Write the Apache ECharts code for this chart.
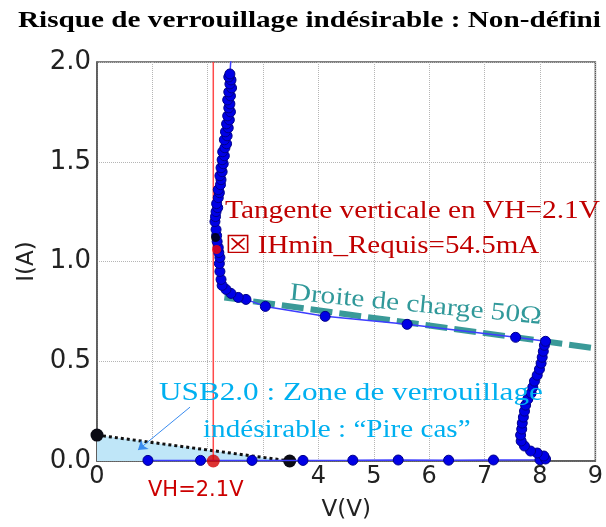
<!DOCTYPE html>
<html>
<head>
<meta charset="utf-8">
<script src="https://cdn.jsdelivr.net/npm/echarts@6/dist/echarts.min.js"></script>
<style>
  html, body { margin: 0; padding: 0; background: #ffffff; }
  #chart { width: 606px; height: 527px; }
</style>
</head>
<body>
<div id="chart"></div>
<script>
// Axis ticks (x labels 1..3 are left blank, the VH label sits there instead)
const xTickLabels = ['0', '', '', '', '4', '5', '6', '7', '8', '9'];
const yTickValues = [0.0, 0.5, 1.0, 1.5, 2.0];

// TLP I-V measurement (V, A): off-state, snapback, along load line, on-state
const tlpCurve = [
  [0.92, 0.003], [1.87, 0.003], [2.80, 0.003], [3.72, 0.003], [4.62, 0.004],
  [5.44, 0.005], [6.35, 0.004], [7.16, 0.005], [8.00, 0.006], [8.10, 0.010],
  [8.07, 0.025], [7.95, 0.040], [7.83, 0.050], [7.72, 0.075], [7.66, 0.100],
  [7.65, 0.130], [7.67, 0.160], [7.68, 0.190], [7.70, 0.220], [7.72, 0.250],
  [7.74, 0.280], [7.78, 0.310], [7.84, 0.340], [7.87, 0.370], [7.90, 0.400],
  [7.95, 0.430], [7.99, 0.460], [8.02, 0.490], [8.04, 0.520], [8.06, 0.550],
  [8.08, 0.580], [8.10, 0.600], [7.56, 0.620], [5.60, 0.685], [4.12, 0.725],
  [3.04, 0.775], [2.69, 0.810], [2.55, 0.820], [2.42, 0.840], [2.33, 0.860],
  [2.26, 0.880], [2.24, 0.910], [2.22, 0.950], [2.21, 0.990], [2.22, 1.020],
  [2.20, 1.045], [2.19, 1.070], [2.17, 1.100], [2.16, 1.130], [2.15, 1.160],
  [2.13, 1.200], [2.14, 1.225], [2.15, 1.250], [2.18, 1.270], [2.16, 1.290],
  [2.19, 1.320], [2.21, 1.345], [2.19, 1.360], [2.23, 1.385], [2.24, 1.410],
  [2.22, 1.430], [2.26, 1.450], [2.24, 1.470], [2.28, 1.490], [2.26, 1.510],
  [2.30, 1.530], [2.27, 1.550], [2.31, 1.570], [2.34, 1.590], [2.30, 1.610],
  [2.35, 1.630], [2.32, 1.650], [2.37, 1.670], [2.34, 1.690], [2.39, 1.710],
  [2.36, 1.730], [2.41, 1.750], [2.38, 1.770], [2.40, 1.790], [2.36, 1.810],
  [2.41, 1.830], [2.38, 1.850], [2.43, 1.870], [2.40, 1.890], [2.42, 1.910],
  [2.38, 1.925], [2.40, 1.940]
];
// the trace carries on beyond the top of the axis
const tlpTail = [[2.40, 1.940], [2.44, 2.10]];

// Holding point markers on the curve
const holdPointRed = [[2.16, 1.06]];
const holdPointBlack = [[2.14, 1.12]];

// Load line 50 ohm
const loadLine = [[2.30, 0.82], [9.00, 0.565]];

// Vertical tangent at VH
const vh = 2.1;
const vhLine = [[vh, 0], [vh, 2.0]];
const vhPoint = [[vh, 0]];

// USB2.0 worst-case latch-up zone
const usbZone = [[0, 0.13], [3.48, 0]];

// Arrow pointing at the zone
const arrowFrom = [1.68, 0.27];
const arrowTo = [0.74, 0.055];

// Texts
const titleText = 'Risque de verrouillage indésirable : Non-défini';
const tangentText = 'Tangente verticale en VH=2.1V';
const ihText = '☒ IHmin_Requis=54.5mA';
const loadText = 'Droite de charge 50Ω';
const usbLine1 = 'USB2.0 : Zone de verrouillage';
const usbLine2 = 'indésirable : “Pire cas”';
const vhText = 'VH=2.1V';

const chart = echarts.init(document.getElementById('chart'), null, { renderer: 'canvas' });

const serif = '"Liberation Serif", "Times New Roman", serif';
const sans = '"DejaVu Sans", sans-serif';

function txt(x, y, text, font, color, scaleX, rotation) {
  return {
    type: 'text', x: x, y: y, scaleX: scaleX || 1, rotation: rotation || 0, z: 100,
    style: { text: text, font: font, fill: color, textAlign: 'left', textVerticalAlign: 'middle' }
  };
}

const option = {
  animation: false,
  backgroundColor: '#ffffff',
  grid: { left: 97, right: 10, top: 62, bottom: 64, show: true, borderColor: '#555', borderWidth: 1.5 },
  xAxis: {
    type: 'value', min: 0, max: 9, interval: 1,
    name: 'V(V)', nameLocation: 'middle', nameGap: 38,
    nameTextStyle: { fontFamily: sans, fontSize: 23, color: '#222' },
    axisLine: { show: true, lineStyle: { color: '#555', width: 1.5 } },
    axisTick: { show: false },
    axisLabel: { fontFamily: sans, fontSize: 24, color: '#222', margin: 4,
      formatter: function (v) { return xTickLabels[Math.round(v)] || ''; } },
    splitLine: { show: true, lineStyle: { color: '#b5b5b5', type: 'dotted', width: 1 } }
  },
  yAxis: {
    type: 'value', min: 0, max: 2, interval: 0.5,
    name: 'I(A)', nameLocation: 'middle', nameGap: 58,
    nameTextStyle: { fontFamily: sans, fontSize: 23, color: '#222' },
    axisLine: { show: true, lineStyle: { color: '#555', width: 1.5 } },
    axisTick: { show: false },
    axisLabel: { fontFamily: sans, fontSize: 26, color: '#222', margin: 6,
      formatter: function (v) { return yTickValues.indexOf(v) >= 0 ? v.toFixed(1) : ''; } },
    splitLine: { show: true, lineStyle: { color: '#b5b5b5', type: 'dotted', width: 1 } }
  },
  series: [
    {
      name: 'zone', type: 'line', data: usbZone, symbol: 'circle', symbolSize: 13,
      itemStyle: { color: '#0b0b14' },
      lineStyle: { color: '#111', width: 3, type: 'dotted' },
      areaStyle: { color: '#bfe6f8', opacity: 1 }, z: 2,
      markLine: {
        silent: true, symbol: ['none', 'arrow'], symbolSize: 9,
        lineStyle: { color: '#3a8cf0', width: 1, type: 'solid' }, label: { show: false },
        data: [[{ coord: arrowFrom }, { coord: arrowTo }]]
      }
    },
    {
      name: 'vh', type: 'line', data: vhLine, symbol: 'none',
      lineStyle: { color: '#ff4a4a', width: 1.5 }, z: 3
    },
    {
      name: 'load', type: 'line', data: loadLine, symbol: 'none',
      lineStyle: { color: '#3a9a98', width: 6, type: [22, 7] }, z: 4
    },
    {
      name: 'tail', type: 'line', data: tlpTail, symbol: 'none', clip: true,
      lineStyle: { color: '#3d3dff', width: 1.5 }, z: 5
    },
    {
      name: 'tlp', type: 'line', data: tlpCurve, symbol: 'circle', symbolSize: 10,
      itemStyle: { color: '#0000e6', borderColor: '#00008a', borderWidth: 1 },
      lineStyle: { color: '#3d3dff', width: 1.5 }, z: 6
    },
    {
      name: 'holdBlack', type: 'scatter', data: holdPointBlack, symbolSize: 9,
      itemStyle: { color: '#000000' }, z: 7
    },
    {
      name: 'holdRed', type: 'scatter', data: holdPointRed, symbolSize: 9,
      itemStyle: { color: '#ff0000' }, z: 7
    },
    {
      name: 'vhPoint', type: 'scatter', data: vhPoint, symbolSize: 13,
      itemStyle: { color: '#d40000' }, z: 8
    }
  ],
  graphic: [
    txt(18, 21, titleText, 'bold 23px ' + serif, '#000000', 1.27),
    txt(225, 211, tangentText, '25px ' + serif, '#c00000', 1.175),
    txt(225, 246, ihText, '25px ' + serif, '#c00000', 1.16),
    txt(159, 393, usbLine1, '26px ' + serif, '#00b0f0', 1.2),
    txt(203, 430, usbLine2, '26px ' + serif, '#00b0f0', 1.12),
    txt(290, 293, loadText, '25px ' + serif, '#31999a', 1.17, -0.096),
    txt(148, 491, vhText, '21px ' + sans, '#cc0000', 1)
  ]
};

chart.setOption(option);
</script>
</body>
</html>
